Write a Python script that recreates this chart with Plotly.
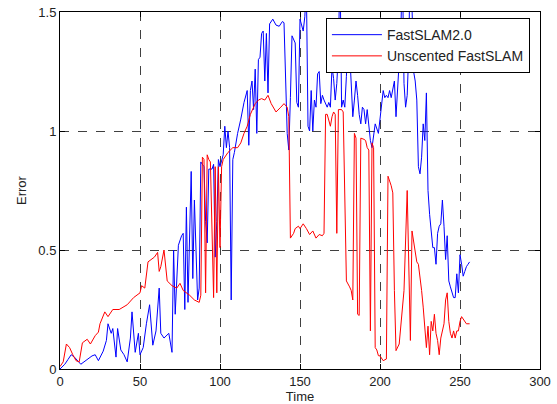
import plotly.graph_objects as go

# FastSLAM2.0 (blue)
blue_t = [0,3,5,7,9,11,13,15,17,20,22,24,27,29,30,32,33,35,36,38,40,42,44,45,47,49,50,52,54,56,58,60,62,63,65,68,70,71,72,74,76,77,78,79,80,82,83,84,86,87,88,90,91,92,93,95,96,97,98,99,100,102,103,104,105,106,107,108,109,111,113,115,117,118,119,120,121,122,123,124,125,126,127,128,129,130,131,133,135,137,139,140,142,143,144,145,147,148,149,150,152,153,154,155,156,157,158,159,160,161,162,163,164,165,167,168,169,170,171,172,173,174,175,176,177,178,179,180,181,182,183,184,185,186,187,188,189,190,191,192,193,194,195,196,197,199,200,201,202,203,204,205,206,207,208,209,210,211,212,213,214,215,216,217,218,219,221,222,223,224,225,226,227,228,229,230,231,232,233,234,235,236,237,238,239,240,241,242,243,244,245,246,247,248,249,250,251,252,253,254,255,256]
blue_v = [0.0,0.02,0.04,0.06,0.05,0.035,0.02,0.03,0.04,0.055,0.06,0.035,0.075,0.12,0.19,0.15,0.17,0.05,0.17,0.08,0.06,0.03,0.13,0.24,0.07,0.15,0.06,0.09,0.19,0.27,0.1,0.16,0.34,0.15,0.13,0.15,0.07,0.5,0.23,0.52,0.56,0.57,0.25,0.68,0.28,0.83,0.38,0.71,0.29,0.34,0.87,0.85,0.62,0.53,0.84,0.84,0.86,0.47,0.62,0.88,0.85,0.9,1.02,0.93,1.0,0.93,0.29,0.88,0.91,0.99,1.05,1.12,1.17,0.94,1.17,1.21,1.09,1.26,0.99,1.3,1.31,1.41,1.42,1.21,1.41,1.16,1.45,1.47,1.445,1.44,1.46,1.455,0.99,0.92,1.14,1.4,1.37,1.12,1.1,1.47,1.42,1.48,1.6,1.02,1.0,1.17,1.0,1.13,1.1,1.24,1.25,1.115,1.15,1.13,1.1,1.12,1.1,1.27,1.22,1.13,1.2,1.33,1.7,1.1,1.13,1.1,1.23,1.38,1.34,1.22,1.06,1.13,1.21,1.15,1.07,1.03,1.1,1.09,1.03,1.09,1.02,0.96,0.93,0.98,1.03,0.99,1.06,1.13,1.17,1.14,1.15,1.14,1.17,1.14,1.185,1.21,1.06,1.185,1.27,1.41,1.7,1.2,1.1,1.15,1.34,1.8,1.25,1.21,1.13,0.85,0.82,0.89,1.03,0.96,1.16,0.75,0.65,0.58,0.51,0.51,0.44,0.57,0.6,0.61,0.71,0.6,0.46,0.56,0.37,0.345,0.32,0.3,0.3,0.4,0.32,0.48,0.44,0.39,0.41,0.43,0.44,0.45]

# Unscented FastSLAM (red)
red_t = [0,2,4,6,8,10,12,14,17,19,22,24,25,28,30,33,37,42,46,50,51,53,55,59,61,62,63,65,67,70,73,75,77,79,81,84,87,88,89,90,91,92,93,94,96,97,98,99,100,101,102,105,108,111,113,115,117,119,121,122,124,126,128,130,132,135,138,140,142,143,144,146,147,149,150,152,154,156,158,160,162,164,165,166,167,169,170,171,172,173,174,176,177,178,179,181,182,183,184,185,186,187,188,190,191,192,193,194,195,196,197,198,199,200,202,204,205,207,208,209,210,212,213,215,217,218,219,220,222,223,224,225,226,227,228,229,230,231,232,233,234,235,236,237,238,240,241,242,243,244,245,246,247,248,249,250,251,252,253,254,255,256]
red_v = [0.01,0.03,0.105,0.09,0.06,0.035,0.03,0.11,0.125,0.105,0.14,0.155,0.19,0.24,0.22,0.25,0.25,0.27,0.3,0.32,0.35,0.34,0.45,0.47,0.49,0.41,0.43,0.5,0.37,0.35,0.34,0.36,0.33,0.32,0.31,0.29,0.28,0.31,0.89,0.88,0.32,0.9,0.88,0.87,0.3,0.85,0.32,0.85,0.51,0.85,0.88,0.91,0.93,0.93,0.95,0.99,1.02,1.07,1.1,1.115,1.13,1.136,1.13,1.15,1.115,1.08,1.1,1.115,1.1,1.06,0.55,0.57,0.59,0.6,0.59,0.61,0.59,0.565,0.58,0.55,0.565,0.56,0.57,1.07,1.07,1.02,1.06,1.08,1.07,0.57,1.09,1.09,1.08,0.77,0.37,0.345,0.33,0.29,0.99,0.97,0.23,0.225,0.97,0.965,0.96,0.93,0.92,0.16,0.95,0.93,0.09,0.08,0.056,0.055,0.035,0.042,0.81,0.77,0.74,0.33,0.077,0.105,0.19,0.33,0.75,0.43,0.12,0.58,0.5,0.45,0.44,0.39,0.33,0.26,0.15,0.09,0.18,0.06,0.2,0.16,0.23,0.15,0.12,0.06,0.13,0.19,0.29,0.32,0.2,0.15,0.13,0.16,0.13,0.16,0.16,0.2,0.22,0.21,0.2,0.19,0.19,0.19]

x_ticks = [0, 50, 100, 150, 200, 250, 300]
y_ticks = [0, 0.5, 1, 1.5]
y_tick_labels = ["0", "0.5", "1", "1.5"]

fig = go.Figure()
fig.add_trace(go.Scatter(x=blue_t, y=blue_v, mode="lines", name="FastSLAM2.0",
                         line=dict(color="#0000FF", width=1)))
fig.add_trace(go.Scatter(x=red_t, y=red_v, mode="lines", name="Unscented FastSLAM",
                         line=dict(color="#FF0000", width=1)))

font_name = "Liberation Sans"
axis_common = dict(showline=True, linecolor="black", linewidth=1, mirror="ticks",
                   ticks="inside", ticklen=5, tickcolor="black",
                   showgrid=True, gridcolor="#404040", griddash="dash", gridwidth=1,
                   zeroline=False, automargin=False,
                   tickfont=dict(family=font_name, size=13, color="#222"))

fig.update_xaxes(range=[0, 300], tickvals=x_ticks, **axis_common,
                 title=dict(text="Time", standoff=4, font=dict(family=font_name, size=13, color="#222")))
fig.update_yaxes(range=[0, 1.5], tickvals=y_ticks, ticktext=y_tick_labels, **axis_common,
                 title=dict(text="Error", standoff=8, font=dict(family=font_name, size=13, color="#222")))

fig.update_layout(
    width=557, height=404,
    margin=dict(l=60, r=17, t=12, b=35),
    paper_bgcolor="white", plot_bgcolor="white",
    showlegend=True,
    legend=dict(x=0.979, y=0.983, xanchor="right", yanchor="top",
                bgcolor="white", bordercolor="black", borderwidth=1,
                font=dict(family=font_name, size=14, color="#222"),
                tracegroupgap=0, itemwidth=50),
)

fig.write_html("out.html")
